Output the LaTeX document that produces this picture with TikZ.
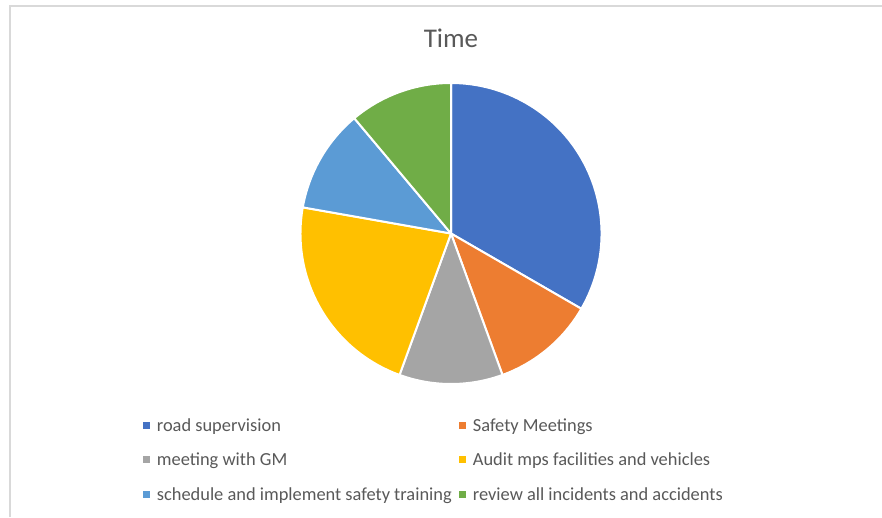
\documentclass[tikz,border=0pt]{standalone}
\usepackage{fontspec}
\setmainfont{Carlito}
\usetikzlibrary{positioning}
\definecolor{xlblue}{HTML}{4472C4}
\definecolor{xlorange}{HTML}{ED7D31}
\definecolor{xlgray}{HTML}{A5A5A5}
\definecolor{xlyellow}{HTML}{FFC000}
\definecolor{xlsky}{HTML}{5B9BD5}
\definecolor{xlgreen}{HTML}{70AD47}
\definecolor{xltext}{HTML}{595959}
\definecolor{xlframe}{HTML}{D9D9D9}
\tikzset{slice/.style={draw=white,line width=2pt,line join=round},
         key box/.style={rectangle,minimum size=7pt,inner sep=0pt},
         key text/.style={text=xltext,font=\fontsize{18.4}{20}\selectfont,inner sep=0pt,
                          text height=16pt,text depth=4pt,anchor=west},
            }

\begin{document}
\begin{tikzpicture}[x=1pt,y=1pt]
    \useasboundingbox (0,0) rectangle (882,517);
    \fill[white] (0,0) rectangle (882,517);
    \draw[xlframe,line width=2pt] (10,0) -- (10,511) -- (882,511);

    \node[text=xltext,font=\fontsize{27}{30}\selectfont,anchor=base] (title) at (451,469) {Time};

    \coordinate (c) at (451,283.5);
    \fill[xlblue,slice]   (c) -- ++(-30:150.5) arc[start angle=-30,end angle=90,radius=150.5] -- cycle;
    \fill[xlorange,slice] (c) -- ++(-70:150.5) arc[start angle=-70,end angle=-30,radius=150.5] -- cycle;
    \fill[xlgray,slice]   (c) -- ++(-110:150.5) arc[start angle=-110,end angle=-70,radius=150.5] -- cycle;
    \fill[xlyellow,slice] (c) -- ++(170:150.5) arc[start angle=170,end angle=250,radius=150.5] -- cycle;
    \fill[xlsky,slice]    (c) -- ++(130:150.5) arc[start angle=130,end angle=170,radius=150.5] -- cycle;
    \fill[xlgreen,slice]  (c) -- ++(90:150.5) arc[start angle=90,end angle=130,radius=150.5] -- cycle;

    \node[key box,fill=xlblue] (k1) at (146.5,92) {};
    \node[key box,fill=xlorange] (k2) at (462.5,92) {};
    \node[key box,fill=xlgray] (k3) at (146.5,57.5) {};
    \node[key box,fill=xlyellow] (k4) at (462.5,57.5) {};
    \node[key box,fill=xlsky] (k5) at (146.5,23) {};
    \node[key box,fill=xlgreen] (k6) at (462.5,23) {};

    \node[key text] (t1) [right = 6.5pt of k1] {road supervision};
    \node[key text] (t2) [right = 6.5pt of k2] {Safety Meetings};
    \node[key text] (t3) [right = 6.5pt of k3] {meeting with GM};
    \node[key text] (t4) [right = 6.5pt of k4] {Audit mps facilities and vehicles};
    \node[key text] (t5) [right = 6.5pt of k5] {schedule and implement safety training};
    \node[key text] (t6) [right = 6.5pt of k6] {review all incidents and accidents};
\end{tikzpicture}
\end{document}
